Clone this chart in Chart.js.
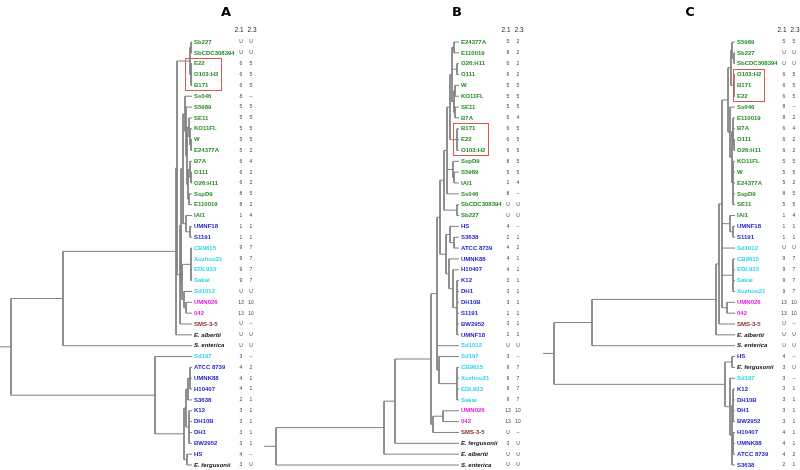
<!DOCTYPE html>
<html>
<head>
<meta charset="utf-8">
<script src="https://cdn.jsdelivr.net/npm/chart.js"></script>
<style>
  body { margin: 0; background: #fff; width: 800px; height: 470px; overflow: hidden; position: relative; }
  canvas { position: absolute; left: 0; top: 0; }
</style>
</head>
<body>
<canvas id="treeA" width="800" height="470"></canvas>
<canvas id="treeB" width="800" height="470"></canvas>
<canvas id="treeC" width="800" height="470"></canvas>
<script>
// strains with their 2.1 / 2.3 values and colour group
const strainNames = ['Sb227', 'SbCDC308394', 'E22', 'O103:H2', 'B171', 'Ss046', 'S5989', 'SE11', 'KO11FL', 'W',
  'E24377A', 'B7A', 'O111', 'O26:H11', 'SspD9', 'E110019', 'IAI1', 'UMNF18', 'S1191', 'CB9615',
  'Xuzhou21', 'EDL933', 'Sakai', 'Sd1012', 'UMN026', '042', 'SMS-3-5', 'E. albertii', 'S. enterica', 'Sd197',
  'ATCC 8739', 'UMNK88', 'H10407', 'S3638', 'K12', 'DH10B', 'DH1', 'BW2952', 'HS', 'E. fergusonii'];
const val21 = ['U', 'U', '6', '6', '6', '8', '5', '5', '5', '5',
  '5', '6', '6', '6', '8', '8', '1', '1', '1', '9',
  '9', '9', '9', 'U', '13', '13', 'U', 'U', 'U', '3',
  '4', '4', '4', '2', '3', '3', '3', '3', '4', '3'];
const val23 = ['U', 'U', '5', '5', '5', '–', '5', '5', '5', '5',
  '2', '4', '2', '2', '5', '2', '4', '1', '1', '7',
  '7', '7', '7', 'U', '10', '10', '–', 'U', 'U', '–',
  '2', '1', '1', '1', '1', '1', '1', '1', '–', 'U'];
const strainGroup = ['g', 'g', 'g', 'g', 'g', 'g', 'g', 'g', 'g', 'g',
  'g', 'g', 'g', 'g', 'g', 'g', 'g', 'b', 'b', 'c',
  'c', 'c', 'c', 'c', 'm', 'm', 'r', 'k', 'k', 'c',
  'b', 'b', 'b', 'b', 'b', 'b', 'b', 'b', 'b', 'k'];

// leaf order of each tree (top to bottom)
const orderA = strainNames.slice();
const orderB = ['E24377A', 'E110019', 'O26:H11', 'O111', 'W', 'KO11FL', 'SE11', 'B7A', 'B171', 'E22',
  'O103:H2', 'SspD9', 'S5989', 'IAI1', 'Ss046', 'SbCDC308394', 'Sb227', 'HS', 'S3638', 'ATCC 8739',
  'UMNK88', 'H10407', 'K12', 'DH1', 'DH10B', 'S1191', 'BW2952', 'UMNF18', 'Sd1012', 'Sd197',
  'CB9615', 'Xuzhou21', 'EDL933', 'Sakai', 'UMN026', '042', 'SMS-3-5', 'E. fergusonii', 'E. albertii', 'S. enterica'];
const orderC = ['S5989', 'Sb227', 'SbCDC308394', 'O103:H2', 'B171', 'E22', 'Ss046', 'E110019', 'B7A', 'O111',
  'O26:H11', 'KO11FL', 'W', 'E24377A', 'SspD9', 'SE11', 'IAI1', 'UMNF18', 'S1191', 'Sd1012',
  'CB9615', 'EDL933', 'Sakai', 'Xuzhou21', 'UMN026', '042', 'SMS-3-5', 'E. albertii', 'S. enterica', 'HS',
  'E. fergusonii', 'Sd197', 'K12', 'DH10B', 'DH1', 'BW2952', 'H10407', 'UMNK88', 'ATCC 8739', 'S3638'];

// trees: [node depth, children...], a number is a leaf row
const treeA = [11,
  [63,
    [176,
      [177,
        [190, [191, 0, 1], [191, 2, 3, 4]],
        [180,
          [181,
            [183,
              [185, 5, [186, 6, [187, [189, 7, [190, 8, [191, 9, 10]]], [188, [190, 11, [191, 12, 13]], [189, 14, 15]]]]],
              [186, 16, [190, 17, 18]]
            ],
            [182, [191, 19, 20, 21, 22], [184, 23, [186, 24, 25]]]
          ],
          26
        ]
      ],
      27
    ],
    28
  ],
  [155, 29, [184, [186, [188, [190, 30, 31, 32], 33], [189, 34, 35, 36, 37]], [187, 38, 39]]]
];
const treeB = [12,
  [120,
    [131,
      [167,
        [173,
          [176,
            [180,
              [183,
                [186,
                  [188, [190, 0, 1], [193, 2, 3], [190, [191, 4, 5], [191, 6, 7]]],
                  [193, 8, 9, 10]
                ],
                [189, 11, [190, 12, 13]],
                14
              ],
              [193, 15, 16]
            ],
            [182,
              [186, 17, [190, 18, 19]],
              [185, 20, [189, 21, [193, 22, 23, 24, 25, 26, 27]]]
            ]
          ],
          28,
          [175, 29, [193, 30, 31, 32, 33]]
        ],
        [169, [179, 34, 35], 36]
      ],
      37
    ],
    38
  ],
  39
];
const treeC = [11,
  [49,
    [173,
      [176,
        [179,
          [185,
            [188, [189, 0, [191, 1, 2]], [191, 3, 4, 5]],
            [187, 6, [189, [190, 7, 8, [191, 9, 10]], [190, 11, 12, 13, 14, 15]]]
          ],
          [187, 16, [190, 17, 18]],
          19,
          [190, 20, 21, 22, 23],
          [184, 24, 25]
        ],
        26
      ],
      27
    ],
    28
  ],
  [182, [189, 29, 30], [187, 31, [189, [190, 32, 33, 34, 35], [190, 36, 37, 38], 39]]]
];

const tipDepths = [192, 195, 192];
const boxedRows = [[2, 4], [8, 10], [3, 5]];

const groupColors = { g: '#238b23', b: '#1e1ec8', c: '#2ad4f0', m: '#e020e0', r: '#8c2a2a', k: '#111111' };

const panels = [
  { id: 'treeA', title: 'A', titleX: 226, tree: treeA, order: orderA, tip: tipDepths[0], left: 0, tipPx: 192, box: boxedRows[0], boxLeft: 7 },
  { id: 'treeB', title: 'B', titleX: 457, tree: treeB, order: orderB, tip: tipDepths[1], left: 264, tipPx: 459, box: boxedRows[1], boxLeft: 6 },
  { id: 'treeC', title: 'C', titleX: 690, tree: treeC, order: orderC, tip: tipDepths[2], left: 543, tipPx: 735, box: boxedRows[2], boxLeft: 2 }
];

function layoutTree(node, tip, segs) {
  if (typeof node === 'number') return { x: tip, y: node };
  const d = node[0];
  const ys = node.slice(1).map(k => {
    const r = layoutTree(k, tip, segs);
    segs.push([{ x: d, y: r.y }, { x: r.x, y: r.y }]);
    return r.y;
  });
  segs.push([{ x: d, y: ys[0] }, { x: d, y: ys[ys.length - 1] }]);
  return { x: d, y: (ys[0] + ys[ys.length - 1]) / 2 };
}

function labelPlugin(p) {
  return {
    id: 'labels' + p.title,
    afterDraw(chart) {
      const ctx = chart.ctx;
      const sx = chart.scales.x, sy = chart.scales.y;
      const tx = sx.getPixelForValue(p.tip);
      ctx.save();
      ctx.textBaseline = 'middle';

      // panel letter
      ctx.fillStyle = '#000';
      ctx.textAlign = 'center';
      ctx.font = 'bold 13px "DejaVu Sans", sans-serif';
      ctx.fillText(p.title, p.titleX, 13);

      // column headers
      const y0 = sy.getPixelForValue(0);
      ctx.font = '6.5px "Liberation Sans", sans-serif';
      ctx.fillStyle = '#222';
      ctx.fillText('2.1', tx + 47, y0 - 12);
      ctx.fillText('2.3', tx + 60, y0 - 12);

      let boxW = 0;
      p.order.forEach((name, i) => {
        const s = strainNames.indexOf(name);
        const g = strainGroup[s];
        const y = sy.getPixelForValue(i);
        ctx.textAlign = 'left';
        ctx.font = (g === 'k' ? 'italic ' : '') + 'bold 6px "Liberation Sans", sans-serif';
        ctx.fillStyle = groupColors[g];
        ctx.fillText(name, tx + 2, y);
        if (i >= p.box[0] && i <= p.box[1]) boxW = Math.max(boxW, ctx.measureText(name).width);
        ctx.textAlign = 'center';
        ctx.font = '5px "Liberation Sans", sans-serif';
        ctx.fillStyle = '#444';
        ctx.fillText(val21[s], tx + 49, y);
        ctx.fillText(val23[s], tx + 59, y);
      });

      // red box round the highlighted strains
      const b0 = sy.getPixelForValue(p.box[0]) - 5.5;
      const b1 = sy.getPixelForValue(p.box[1]) + 5;
      ctx.strokeStyle = '#e05555';
      ctx.lineWidth = 1;
      ctx.strokeRect(Math.round(tx - p.boxLeft) + 0.5, Math.round(b0) + 0.5, Math.round(boxW + p.boxLeft + 5), Math.round(b1 - b0));
      ctx.restore();
    }
  };
}

panels.forEach(p => {
  const segs = [];
  const root = layoutTree(p.tree, p.tip, segs);
  segs.push([{ x: 0, y: root.y }, { x: p.tree[0], y: root.y }]);
  const datasets = segs.map(s => ({
    data: s,
    showLine: true,
    borderColor: '#808080',
    borderWidth: 1,
    pointRadius: 0,
    clip: false
  }));
  new Chart(document.getElementById(p.id), {
    type: 'scatter',
    data: { datasets },
    options: {
      responsive: false,
      animation: false,
      events: [],
      layout: { padding: { left: p.left, right: 800 - p.tipPx, top: 42, bottom: 5 } },
      scales: {
        x: { type: 'linear', display: false, min: 0, max: p.tip },
        y: { type: 'linear', display: false, min: 0, max: orderA.length - 1, reverse: true }
      },
      plugins: { legend: { display: false }, tooltip: { enabled: false } }
    },
    plugins: [labelPlugin(p)]
  });
});
</script>
</body>
</html>
